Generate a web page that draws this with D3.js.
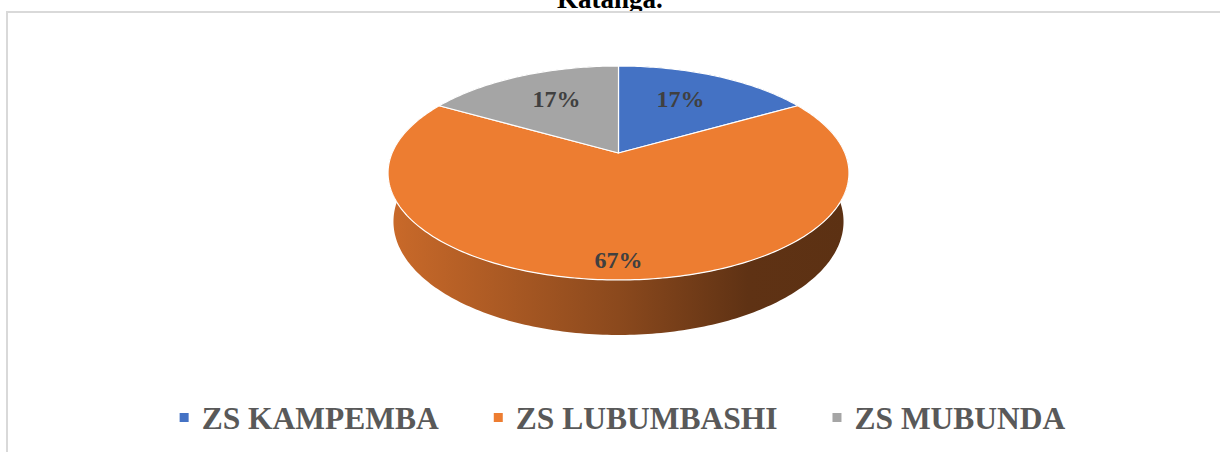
<!DOCTYPE html>
<html>
<head>
<meta charset="utf-8">
<script src="https://cdn.jsdelivr.net/npm/d3@7/dist/d3.min.js"></script>
<style>
  html, body { margin: 0; padding: 0; background: #fff; }
  svg { display: block; }
</style>
</head>
<body>
<svg id="chart" width="1220" height="452"></svg>
<script>
// ---- data ----
const categories = ["ZS KAMPEMBA", "ZS LUBUMBASHI", "ZS MUBUNDA"];
const values = [1, 4, 1];
const colors = ["#4472C4", "#ED7D31", "#A5A5A5"];
const titleText = "Katanga.";

// ---- setup ----
const W = 1220, H = 452;
const svg = d3.select("#chart");
svg.append("rect").attr("width", W).attr("height", H).attr("fill", "#fff");

// title (partly hidden under chart area)
svg.append("text")
  .attr("x", 610).attr("y", 8)
  .attr("text-anchor", "middle")
  .style("font-family", "'Liberation Serif', 'Times New Roman', serif")
  .style("font-weight", "bold").style("font-size", "27px")
  .attr("fill", "#000").text(titleText);

svg.append("rect")
  .attr("x", 7).attr("y", 12).attr("width", 1240).attr("height", 480)
  .attr("fill", "#fff").attr("stroke", "#d9d9d9").attr("stroke-width", 2);

// ---- 3D projection ----
const cx = 618.5, cy = 153;
const sinA = 0.456, cosA = Math.sqrt(1 - sinA * sinA);
const Dcam = 1 / 0.21;          // camera distance in pie radii
const fpx = 226.4 * Dcam;       // focal length in px
const depth = 0.243;            // thickness in pie radii

function project(x, y, z) {
  const xc = x;
  const yc = y * cosA - z * sinA;
  const zc = y * sinA + z * cosA;
  const s = fpx / (Dcam - zc);
  return [cx + xc * s, cy - yc * s];
}
function pt(theta, r, y) {
  return project(r * Math.sin(theta), y, -r * Math.cos(theta));
}

const pie = d3.pie().sort(null).value(d => d)(values);
const total = d3.sum(values);
const line = d3.line();

function arcPoints(a0, a1, r, y, n) {
  const pts = [];
  for (let i = 0; i <= n; i++) {
    const t = a0 + (a1 - a0) * i / n;
    pts.push(pt(t, r, y));
  }
  return pts;
}

const defs = svg.append("defs");
const xLeft = cx - 231, xRight = cx + 231;
pie.forEach((d, i) => {
  const base = d3.rgb(colors[i]);
  const g = defs.append("linearGradient")
    .attr("id", "wall" + i)
    .attr("gradientUnits", "userSpaceOnUse")
    .attr("x1", xLeft).attr("y1", 0).attr("x2", xRight).attr("y2", 0);
  [[0, 0.45], [0.5, 1.5], [0.78, 2.55], [1, 2.65]].forEach(([o, k]) => {
    g.append("stop").attr("offset", o).attr("stop-color", base.darker(k).formatHex());
  });
});

// outer walls
const walls = svg.append("g");
pie.forEach((d, i) => {
  const n = Math.max(20, Math.round((d.endAngle - d.startAngle) * 60));
  const top = arcPoints(d.startAngle, d.endAngle, 1, 0, n);
  const bot = arcPoints(d.endAngle, d.startAngle, 1, -depth, n);
  walls.append("path")
    .attr("d", line(top.concat(bot)) + "Z")
    .attr("fill", `url(#wall${i})`)
    .attr("stroke", "none");
});

// top faces
const tops = svg.append("g");
pie.forEach((d, i) => {
  const n = Math.max(20, Math.round((d.endAngle - d.startAngle) * 60));
  const pts = [project(0, 0, 0)].concat(arcPoints(d.startAngle, d.endAngle, 1, 0, n));
  tops.append("path")
    .attr("d", line(pts) + "Z")
    .attr("fill", colors[i])
    .attr("stroke", "#fff")
    .attr("stroke-width", 1.2)
    .attr("stroke-linejoin", "round");
});

// data labels
const labels = svg.append("g");
pie.forEach((d, i) => {
  const mid = (d.startAngle + d.endAngle) / 2;
  const r = (d.endAngle - d.startAngle) > Math.PI ? 0.9 : 0.6;
  const p = pt(mid, r, 0);
  labels.append("text")
    .attr("x", p[0]).attr("y", p[1] + 3)
    .attr("text-anchor", "middle")
    .style("font-family", "'Liberation Serif', 'Times New Roman', serif")
    .style("font-weight", "bold").style("font-size", "24px")
    .attr("fill", "#404040")
    .text(Math.round(d.value / total * 100) + "%");
});

// legend
const legend = svg.append("g");
const items = categories.map((c, i) => {
  const g = legend.append("g");
  g.append("rect").attr("x", 0).attr("y", 413).attr("width", 9).attr("height", 9)
    .attr("fill", colors[i]);
  const t = g.append("text").attr("x", 22).attr("y", 429)
    .style("font-family", "'Liberation Serif', 'Times New Roman', serif")
    .style("font-weight", "bold").style("font-size", "31.5px")
    .attr("fill", "#595959").text(c);
  return { g, w: 22 + t.node().getComputedTextLength() };
});
const gap = 55;
const totalW = d3.sum(items, d => d.w) + gap * (items.length - 1);
let x0 = 622.5 - totalW / 2;
items.forEach(it => {
  it.g.attr("transform", `translate(${x0},0)`);
  x0 += it.w + gap;
});
</script>
</body>
</html>
